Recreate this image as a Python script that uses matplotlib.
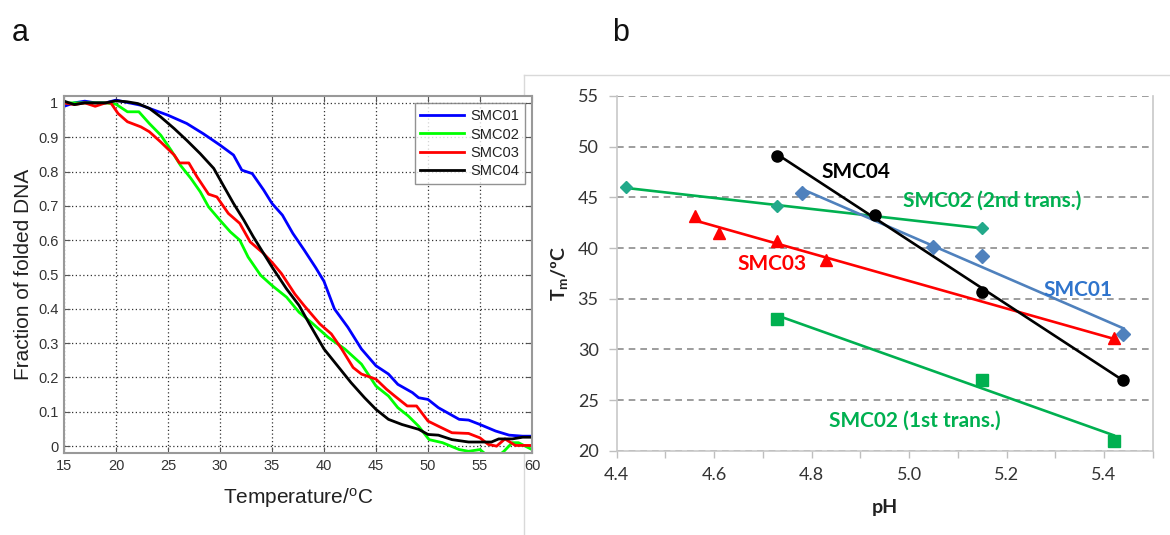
import numpy as np
import matplotlib
matplotlib.use("Agg")
import matplotlib.pyplot as plt
from matplotlib.lines import Line2D

# ---------------- Panel a data (melting curves) ----------------
t_smc01 = [15, 16, 17, 18, 19, 20, 22.4, 25, 26.8, 28.4, 30, 31.3, 32.1, 33.1, 34.2, 35, 36, 37, 38.1,
           39.2, 40, 41, 42.3, 43.6, 45, 46.2, 47.1, 48.5, 49.1, 50, 51, 53, 53.9, 55, 56.5, 57.8, 59.1, 60]
f_smc01 = [0.99, 1.0, 1.005, 1.0, 1.0, 1.008, 0.993, 0.964, 0.94, 0.91, 0.877, 0.848, 0.804, 0.794, 0.746,
           0.707, 0.673, 0.62, 0.571, 0.52, 0.48, 0.40, 0.346, 0.283, 0.234, 0.21, 0.18, 0.156, 0.141, 0.136,
           0.112, 0.078, 0.076, 0.063, 0.044, 0.032, 0.029, 0.029]

t_smc02 = [15, 17, 19, 20, 21.1, 22.2, 23.2, 24.3, 25.3, 26.2, 27.2, 28.1, 28.9, 30, 31, 31.9, 32.7, 33.9,
           35, 36.4, 37.6, 38.8, 40.4, 42, 43.6, 45, 46.2, 47.1, 48.1, 49.1, 50.1, 51.4, 53, 53.9, 55, 55.8,
           56.5, 57.3, 58.1, 58.7, 60]
f_smc02 = [1.0, 1.0, 1.0, 0.996, 0.974, 0.974, 0.94, 0.906, 0.862, 0.818, 0.78, 0.741, 0.697, 0.658, 0.624,
           0.6, 0.551, 0.498, 0.468, 0.434, 0.39, 0.36, 0.317, 0.283, 0.239, 0.175, 0.146, 0.112, 0.088, 0.058,
           0.019, 0.01, -0.01, -0.015, -0.01, -0.03, -0.035, -0.015, 0.01, 0.01, -0.01]

t_smc03 = [15, 16, 17, 18, 19, 19.5, 20.2, 21.1, 22.4, 23.2, 24.3, 25.6, 26.1, 27.0, 27.8, 28.9, 29.7, 30.8,
           31.9, 32.9, 34.2, 35.1, 35.9, 37.2, 38.1, 39.6, 40.7, 41.7, 42.8, 43.6, 45, 46, 46.8, 48, 48.9, 50,
           51, 52.3, 53.9, 55, 55.8, 56.6, 57.4, 58.4, 60]
f_smc03 = [1.0, 0.995, 1.0, 0.99, 1.0, 1.0, 0.969, 0.945, 0.93, 0.916, 0.886, 0.848, 0.825, 0.825, 0.784,
           0.734, 0.726, 0.678, 0.649, 0.595, 0.561, 0.532, 0.503, 0.443, 0.409, 0.356, 0.327, 0.283, 0.229,
           0.21, 0.195, 0.166, 0.146, 0.117, 0.117, 0.073, 0.058, 0.039, 0.037, 0.024, 0.005, 0.0, 0.021,
           0.002, 0.002]

t_smc04 = [15, 16, 17, 18, 19, 20, 21.1, 22.1, 23.2, 24.3, 25.6, 26.8, 28.1, 29.4, 30.4, 31.3, 32.3, 33.2,
           34.2, 35, 36.4, 37.6, 38.6, 40, 41.3, 42.6, 43.9, 45, 46.2, 47.5, 49.1, 50, 51, 52.3, 53.9, 55,
           56.1, 56.8, 58.1, 59.1, 60]
f_smc04 = [1.005, 0.995, 1.0, 1.0, 1.0, 1.006, 1.003, 0.998, 0.984, 0.959, 0.925, 0.891, 0.852, 0.809, 0.755,
           0.707, 0.658, 0.61, 0.561, 0.522, 0.458, 0.41, 0.356, 0.283, 0.234, 0.185, 0.141, 0.107, 0.078,
           0.063, 0.049, 0.034, 0.032, 0.019, 0.012, 0.012, 0.012, 0.021, 0.021, 0.026, 0.026]

legend_a = ["SMC01", "SMC02", "SMC03", "SMC04"]
xticks_a = [15, 20, 25, 30, 35, 40, 45, 50, 55, 60]
yticks_a = [0, 0.1, 0.2, 0.3, 0.4, 0.5, 0.6, 0.7, 0.8, 0.9, 1.0]
yticklabels_a = ["0", "0.1", "0.2", "0.3", "0.4", "0.5", "0.6", "0.7", "0.8", "0.9", "1"]

# ---------------- Panel b data (Tm vs pH) ----------------
ph_smc01 = [4.78, 5.05, 5.15, 5.44]
tm_smc01 = [45.4, 40.1, 39.2, 31.5]
ph_smc02_2nd = [4.42, 4.73, 5.15]
tm_smc02_2nd = [46.0, 44.1, 42.0]
ph_smc03 = [4.56, 4.61, 4.73, 4.83, 5.42]
tm_smc03 = [43.2, 41.5, 40.7, 38.8, 31.1]
ph_smc04 = [4.73, 4.93, 5.15, 5.44]
tm_smc04 = [49.1, 43.3, 35.7, 27.0]
ph_smc02_1st = [4.73, 5.15, 5.42]
tm_smc02_1st = [33.0, 27.0, 21.0]
xticks_b = [4.4, 4.6, 4.8, 5.0, 5.2, 5.4]
yticks_b = [20, 25, 30, 35, 40, 45, 50, 55]

plt.rcParams['mathtext.fontset'] = 'custom'
plt.rcParams['mathtext.rm'] = 'Lato'
plt.rcParams['mathtext.bf'] = 'Lato:bold'
plt.rcParams['mathtext.it'] = 'Lato:italic'

fig = plt.figure(figsize=(11.7, 5.35), dpi=100)

# panel border for b (behind axes)
border_c = '#D9D9D9'
fig.add_artist(Line2D([524/1170, 1.0], [1-75/535, 1-75/535], transform=fig.transFigure,
                      color=border_c, lw=1, zorder=0))
fig.add_artist(Line2D([524/1170, 524/1170], [0, 1-75/535], transform=fig.transFigure,
                      color=border_c, lw=1, zorder=0))

# ---------------- Panel a ----------------
FA = 'Liberation Sans'
axa = fig.add_axes([64/1170, 1-453/535, (532-64)/1170, (453-96)/535])
axa.set_zorder(2)
LW = 2.0
axa.plot(t_smc01, f_smc01, color='#0000FF', lw=LW, label=legend_a[0])
axa.plot(t_smc02, f_smc02, color='#00FF00', lw=LW, label=legend_a[1])
axa.plot(t_smc03, f_smc03, color='#FF0000', lw=LW, label=legend_a[2])
axa.plot(t_smc04, f_smc04, color='#000000', lw=LW, label=legend_a[3])
axa.set_xlim(15, 60)
axa.set_ylim(-0.02, 1.02)
axa.set_xticks(xticks_a)
axa.set_xticklabels([str(v) for v in xticks_a], fontfamily=FA, fontsize=10.5, color='#333333')
axa.set_yticks(yticks_a)
axa.set_yticklabels(yticklabels_a, fontfamily=FA, fontsize=10.5, color='#333333')
axa.tick_params(direction='in', length=4, width=0.8, color='#555555', top=True, right=True, pad=4)
axa.grid(True, linestyle=(0, (1, 2)), color='#333333', lw=0.9)
for s in axa.spines.values():
    s.set_color('#999999')
    s.set_linewidth(1.5)
axa.set_xlabel('Temperature/$^{\\mathregular{o}}$C', fontfamily=FA, fontsize=15, color='#222222', labelpad=10)
axa.set_ylabel('Fraction of folded DNA', fontfamily=FA, fontsize=15, color='#222222', labelpad=4)
leg = axa.legend(loc='upper right', prop={'family': FA, 'size': 10.5}, frameon=True, fancybox=False,
                 handlelength=3.0, handletextpad=0.4, labelspacing=0.3, borderaxespad=0.5,
                 borderpad=0.4, edgecolor='#777777')
leg.get_frame().set_linewidth(1.0)
for t in leg.get_texts():
    t.set_color('#222222')

# ---------------- Panel b ----------------
FB = 'Lato'
axb = fig.add_axes([616.7/1170, 1-450.7/535, (1152.7-616.7)/1170, (450.7-96)/535])
axb.set_zorder(2)

green = '#00B050'
green_d = '#22A98A'
blue_line = '#4F81BD'
blue_txt = '#2F74CC'
red = '#FF0000'

def trend(ax, x, y, color):
    p = np.polyfit(x, y, 1)
    xs = np.array([min(x), max(x)])
    ax.plot(xs, np.polyval(p, xs), color=color, lw=1.9, zorder=3)

trend(axb, ph_smc02_2nd, tm_smc02_2nd, green)
trend(axb, ph_smc01, tm_smc01, blue_line)
trend(axb, ph_smc03, tm_smc03, red)
trend(axb, ph_smc04, tm_smc04, '#000000')
trend(axb, ph_smc02_1st, tm_smc02_1st, green)

axb.plot(ph_smc02_2nd, tm_smc02_2nd, 'D', color=green_d, ms=6.5, mec=green_d, ls='none', zorder=4)
axb.plot(ph_smc01, tm_smc01, 'D', color=blue_line, ms=7, ls='none', zorder=4)
axb.plot(ph_smc03, tm_smc03, '^', color=red, ms=9, ls='none', zorder=4)
axb.plot(ph_smc04, tm_smc04, 'o', color='#000000', ms=8, ls='none', zorder=4)
axb.plot(ph_smc02_1st, tm_smc02_1st, 's', color=green, ms=9, ls='none', zorder=4)

axb.set_xlim(4.4, 5.5)
axb.set_ylim(20, 55)
axb.set_xticks(xticks_b)
axb.set_xticklabels([f"{v:.1f}" for v in xticks_b], fontfamily=FB, fontsize=13, color='#333333')
axb.set_xticks(np.arange(4.5, 5.51, 0.2), minor=True)
axb.set_yticks(yticks_b)
axb.set_yticklabels([str(v) for v in yticks_b], fontfamily=FB, fontsize=13, color='#333333')
axb.tick_params(axis='x', which='both', direction='out', length=5, width=1, color='#BFBFBF', pad=7)
axb.tick_params(axis='y', which='both', direction='out', length=6, width=1, color='#BFBFBF', pad=7)
axb.yaxis.grid(True, linestyle=(0, (4, 3)), color='#8C8C8C', lw=1.2)
axb.set_axisbelow(True)
axb.spines['top'].set_visible(False)
for k in ['left', 'right', 'bottom']:
    axb.spines[k].set_color('#C8C8C8')
    axb.spines[k].set_linewidth(1.2)
axb.set_xlabel('pH', fontfamily=FB, fontsize=14, fontweight='bold', color='#222222')
axb.xaxis.set_label_coords(0.5, -0.135)
axb.set_ylabel(r'$\mathbf{T_m}$/ºC', fontfamily=FB, fontsize=14, fontweight='bold', color='#222222')
axb.yaxis.set_label_coords(-0.088, 0.5)

lab_kw = dict(fontfamily=FB, fontsize=15, fontweight='bold', va='center', ha='left', zorder=5)
axb.text(4.821, 47.5, 'SMC04', color='#000000', **lab_kw)
axb.text(4.988, 44.7, 'SMC02 (2nd trans.)', color=green, **lab_kw)
axb.text(4.647, 38.4, 'SMC03', color=red, **lab_kw)
axb.text(5.275, 35.85, 'SMC01', color=blue_txt, **lab_kw)
axb.text(4.835, 23.0, 'SMC02 (1st trans.)', color=green, **lab_kw)

# panel letters
fig.text(12/1170, 1-41/535, 'a', fontfamily=FA, fontsize=22, color='#111111', va='baseline')
fig.text(612/1170, 1-41/535, 'b', fontfamily=FA, fontsize=22, color='#111111', va='baseline')

fig.savefig('out.png', dpi=100)
